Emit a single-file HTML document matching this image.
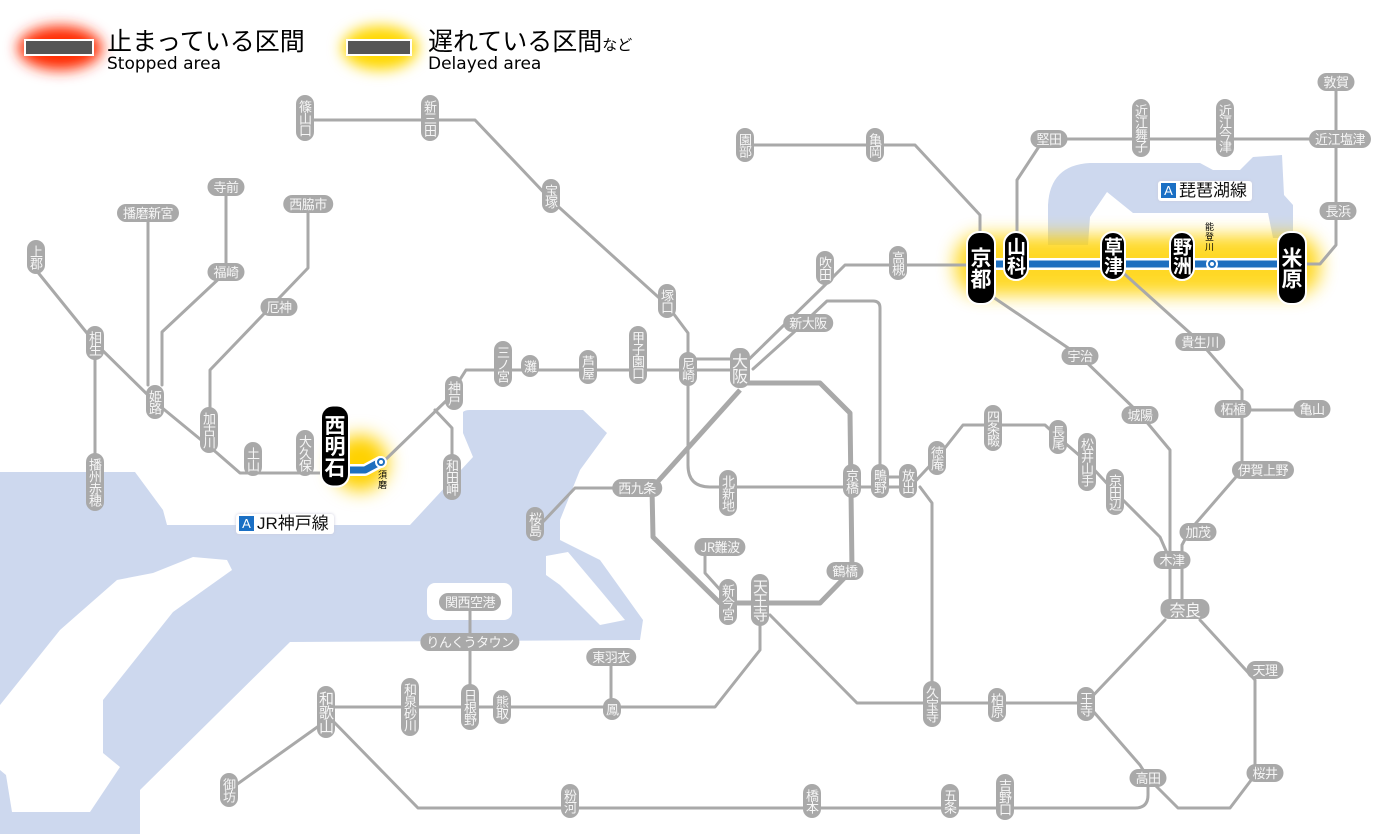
<!DOCTYPE html>
<html><head><meta charset="utf-8">
<style>
body{margin:0;background:#fff;}
#w{position:relative;width:1400px;height:834px;overflow:hidden;background:#fff;font-family:"Liberation Sans","Noto Sans CJK JP",sans-serif;}
svg{position:absolute;left:0;top:0;}
.p{position:absolute;transform:translate(-50%,-50%);background:#a9a9a9;color:#f6f6f6;font-size:13px;white-space:nowrap;font-family:"Noto Sans CJK JP",sans-serif;}
.v{writing-mode:vertical-rl;text-orientation:upright;width:18px;line-height:18px;padding:5px 0;border-radius:9px;letter-spacing:-1px;text-align:center;}
.h{height:18px;line-height:18px;padding:0 6px;border-radius:9px;letter-spacing:-0.5px;}
.b{position:absolute;transform:translate(-50%,-50%);background:#000;color:#fff;font-family:"Noto Sans CJK JP",sans-serif;font-weight:bold;writing-mode:vertical-rl;text-orientation:upright;width:26px;line-height:26px;font-size:21px;padding:9px 0;border-radius:13px;border:2px solid #fff;text-align:center;}
.t{position:absolute;font-family:"Noto Sans CJK JP",sans-serif;color:#000;}
.lab{position:absolute;background:#fff;border-radius:3px;padding:0 5px 0 3px;height:20px;line-height:20px;font-size:17px;font-family:"Liberation Sans","Noto Sans CJK JP",sans-serif;color:#111;box-shadow:0 0 3px #ccd;}
.lab i{display:inline-block;background:#1a6fc4;color:#fff;font-style:normal;font-size:13px;width:15px;height:15px;line-height:15px;text-align:center;margin-right:3px;vertical-align:1px;}
</style></head><body><div id="w">
<svg width="1400" height="834" viewBox="0 0 1400 834">
<defs>
<filter id="bl" x="-50%" y="-50%" width="200%" height="200%"><feGaussianBlur stdDeviation="9"/></filter>
<filter id="bl2" x="-50%" y="-50%" width="200%" height="200%"><feGaussianBlur stdDeviation="7"/></filter>
</defs>
<g fill="#cdd8ee">
<path d="M0,472 L135,472 L163,510 L167,525 L410,525 L473,457 L463,433 L463,412 Q465,410 470,410 L583,410 L607,433 L580,470 L560,520 L560,540 L600,560 L643,620 L640,640 L290,642 L140,790 L140,834 L0,834 Z"/>
<path d="M1048,245 L1048,205 Q1050,165 1090,163 L1200,163 L1213,170 L1240,170 L1253,157 L1282,155 L1284,195 L1293,205 L1293,238 L1273,238 L1268,213 L1133,213 L1107,192 L1090,217 L1088,245 Z"/>
</g>
<g fill="#fff">
<path d="M0,705 L60,630 L117,580 L153,573 L193,557 L227,560 L232,570 L173,612 L103,700 L103,753 L120,767 L90,812 L12,812 L6,775 L0,770 Z"/>
<rect x="427" y="583" width="85" height="37" rx="8"/>
<path d="M546,556 L568,552 L600,590 L625,620 L600,625 L580,605 L560,585 L546,575 Z"/>
<path d="M593,502 L598,495 L585,530 L575,540 Z"/>
</g>
<rect x="955" y="235" width="365" height="60" rx="25" fill="#ffd200" filter="url(#bl)" opacity="0.85"/>
<circle cx="360" cy="463" r="28" fill="#ffd200" filter="url(#bl)"/>
<ellipse cx="60" cy="48" rx="42" ry="22" fill="#ff2a00" filter="url(#bl2)"/>
<ellipse cx="380" cy="48" rx="38" ry="22" fill="#ffd800" filter="url(#bl2)"/>
<rect x="25" y="40" width="68" height="15" fill="#555" stroke="#fff" stroke-width="2"/>
<rect x="347" y="40" width="64" height="15" fill="#555" stroke="#fff" stroke-width="2"/>
<g fill="none" stroke="#a9a9a9" stroke-width="3" stroke-linejoin="round" stroke-linecap="round">
<path d="M305,120 L475,120 L551,200 L667,305 L688,333 L688,465 Q688,487 710,487 L910,487"/>
<path d="M880,477 L910,477"/>
<path d="M688,359 L740,359"/>
<path d="M36,270 L95,343 L155,402 L217,453 L240,473 L335,473"/>
<path d="M95,343 L95,485"/>
<path d="M148,213 L148,385"/>
<path d="M226,187 L226,272 L162,332 L162,385"/>
<path d="M308,204 L308,268 L210,370 L210,420"/>
<path d="M383,462 L447,400 L466,370 L740,370"/>
<path d="M435,410 L452,428 L452,478"/>
<path d="M740,368 L823,287 L845,265 L968,265"/>
<path d="M753,369 L793,333 L827,301 L873,301 Q880,301 880,308 L880,487"/>
<path d="M745,145 L915,145 L980,215 L980,240"/>
<path d="M1305,264 L1320,264 L1336,245 L1336,82"/>
<path d="M1017,240 L1017,180 L1040,145 L1049,139 L1340,139"/>
<path d="M990,295 L1080,356 L1140,414 L1170,450 L1170,600"/>
<path d="M1120,270 L1200,342 L1242,390 L1242,470 L1190,530 L1182,545 L1182,600"/>
<path d="M1242,410 L1312,410"/>
<path d="M910,487 L937,458 L963,425 L1045,425 L1058,437 L1087,462 L1115,492 L1160,537 L1170,560"/>
<path d="M920,487 L932,503 L932,703 L1086,703 L1165,620"/>
<path d="M1200,620 L1255,680 L1255,775 L1230,808 L1178,808 L1148,778"/>
<path d="M1086,703 L1140,765 L1148,778 L1148,795 Q1148,808 1135,808 L418,808 L330,718"/>
<path d="M330,718 L229,790"/>
<path d="M770,615 L857,703 L932,703"/>
<path d="M760,615 L760,650 L715,707 L325,707"/>
<path d="M611,657 L611,707"/>
<path d="M470,602 L470,707"/>
<path d="M705,547 L705,573 L723,593 L735,603"/>
<path d="M620,488 L575,488 L540,525"/>
</g>
<g fill="none" stroke="#a9a9a9" stroke-width="5" stroke-linejoin="round">
<path d="M747,383 L820,383 L850,413 L852,570 L820,603 L720,603 L653,537 L652,488 L740,390"/>
</g>
<g fill="none" stroke-linecap="round" stroke-linejoin="round">
<path d="M985,264 L1295,264" stroke="#fff" stroke-width="12"/>
<path d="M985,264 L1295,264" stroke="#1e6fbf" stroke-width="7"/>
<path d="M340,470 L365,470 L380,462" stroke="#fff" stroke-width="12"/>
<path d="M340,470 L365,470 L380,462" stroke="#1e6fbf" stroke-width="7"/>
</g>
<circle cx="1212" cy="264" r="5" fill="#1e6fbf" stroke="#fff" stroke-width="2"/>
<circle cx="1212" cy="264" r="2" fill="#fff"/>
<circle cx="381" cy="462" r="5" fill="#1e6fbf" stroke="#fff" stroke-width="2"/>
<circle cx="381" cy="462" r="2" fill="#fff"/>
</svg>

<div class="t" style="left:107px;top:24px;font-size:25px;line-height:32px;">止まっている区間</div>
<div class="t" style="left:107px;top:54px;font-size:17px;font-family:'DejaVu Sans',sans-serif;">Stopped area</div>
<div class="t" style="left:428px;top:24px;font-size:25px;line-height:32px;">遅れている区間<span style="font-size:15px">など</span></div>
<div class="t" style="left:428px;top:54px;font-size:17px;font-family:'DejaVu Sans',sans-serif;">Delayed area</div>

<div class="lab" style="left:1158px;top:181px;"><i>A</i>琵琶湖線</div>
<div class="lab" style="left:236px;top:514px;"><i>A</i>JR神戸線</div>

<div class="p v" style="left:305px;top:118px">篠山口</div>
<div class="p v" style="left:430px;top:118px">新三田</div>
<div class="p v" style="left:551px;top:196px">宝塚</div>
<div class="p v" style="left:667px;top:301px">塚口</div>
<div class="p v" style="left:688px;top:369px">尼崎</div>
<div class="p v" style="left:638px;top:355px">甲子園口</div>
<div class="p v" style="left:588px;top:367px">芦屋</div>
<div class="p v" style="left:530px;top:366px">灘</div>
<div class="p v" style="left:503px;top:364px">三ノ宮</div>
<div class="p v" style="left:454px;top:393px">神戸</div>
<div class="p v" style="left:452px;top:477px">和田岬</div>
<div class="p v" style="left:305px;top:453px">大久保</div>
<div class="p v" style="left:253px;top:459px">土山</div>
<div class="p v" style="left:209px;top:430px">加古川</div>
<div class="p v" style="left:155px;top:402px">姫路</div>
<div class="p v" style="left:95px;top:343px">相生</div>
<div class="p v" style="left:36px;top:257px">上郡</div>
<div class="p v" style="left:95px;top:482px">播州赤穂</div>
<div class="p v" style="left:740px;top:368px;font-size:16px;width:20px;line-height:20px">大阪</div>
<div class="p v" style="left:825px;top:268px">吹田</div>
<div class="p v" style="left:898px;top:263px">高槻</div>
<div class="p v" style="left:745px;top:145px">園部</div>
<div class="p v" style="left:875px;top:145px">亀岡</div>
<div class="p v" style="left:1141px;top:128px">近江舞子</div>
<div class="p v" style="left:1225px;top:128px">近江今津</div>
<div class="p v" style="left:1086px;top:704px">王寺</div>
<div class="p v" style="left:997px;top:705px">柏原</div>
<div class="p v" style="left:932px;top:704px">久宝寺</div>
<div class="p v" style="left:908px;top:481px">放出</div>
<div class="p v" style="left:880px;top:481px">鴫野</div>
<div class="p v" style="left:852px;top:481px">京橋</div>
<div class="p v" style="left:937px;top:458px">徳庵</div>
<div class="p v" style="left:993px;top:428px">四条畷</div>
<div class="p v" style="left:1058px;top:437px">長尾</div>
<div class="p v" style="left:1087px;top:462px">松井山手</div>
<div class="p v" style="left:1115px;top:492px">京田辺</div>
<div class="p v" style="left:728px;top:493px">北新地</div>
<div class="p v" style="left:535px;top:524px">桜島</div>
<div class="p v" style="left:728px;top:602px">新今宮</div>
<div class="p v" style="left:760px;top:600px;font-size:15px">天王寺</div>
<div class="p v" style="left:612px;top:709px">鳳</div>
<div class="p v" style="left:502px;top:707px">熊取</div>
<div class="p v" style="left:470px;top:707px">日根野</div>
<div class="p v" style="left:410px;top:707px">和泉砂川</div>
<div class="p v" style="left:326px;top:712px;font-size:15px">和歌山</div>
<div class="p v" style="left:229px;top:790px">御坊</div>
<div class="p v" style="left:570px;top:801px">粉河</div>
<div class="p v" style="left:812px;top:801px">橋本</div>
<div class="p v" style="left:950px;top:801px">五条</div>
<div class="p v" style="left:1005px;top:797px">吉野口</div>

<div class="p h" style="left:148px;top:213px">播磨新宮</div>
<div class="p h" style="left:226px;top:187px">寺前</div>
<div class="p h" style="left:226px;top:272px">福崎</div>
<div class="p h" style="left:308px;top:204px">西脇市</div>
<div class="p h" style="left:279px;top:307px">厄神</div>
<div class="p h" style="left:808px;top:323px">新大阪</div>
<div class="p h" style="left:1049px;top:139px">堅田</div>
<div class="p h" style="left:1336px;top:82px">敦賀</div>
<div class="p h" style="left:1340px;top:139px">近江塩津</div>
<div class="p h" style="left:1338px;top:211px">長浜</div>
<div class="p h" style="left:1080px;top:356px">宇治</div>
<div class="p h" style="left:1140px;top:415px">城陽</div>
<div class="p h" style="left:1200px;top:342px">貴生川</div>
<div class="p h" style="left:1233px;top:409px">柘植</div>
<div class="p h" style="left:1312px;top:409px">亀山</div>
<div class="p h" style="left:1263px;top:470px">伊賀上野</div>
<div class="p h" style="left:1198px;top:532px">加茂</div>
<div class="p h" style="left:1172px;top:560px">木津</div>
<div class="p h" style="left:1185px;top:609px;font-size:16px;height:20px;line-height:20px;padding:0 9px">奈良</div>
<div class="p h" style="left:1265px;top:670px">天理</div>
<div class="p h" style="left:1265px;top:773px">桜井</div>
<div class="p h" style="left:1148px;top:778px">高田</div>
<div class="p h" style="left:637px;top:488px">西九条</div>
<div class="p h" style="left:720px;top:547px">JR難波</div>
<div class="p h" style="left:845px;top:571px">鶴橋</div>
<div class="p h" style="left:470px;top:602px">関西空港</div>
<div class="p h" style="left:470px;top:642px">りんくうタウン</div>
<div class="p h" style="left:611px;top:657px">東羽衣</div>

<div class="b" style="left:335px;top:446px;padding:8px 0">西明石</div>
<div class="b" style="left:981px;top:268px;padding:14px 0">京都</div>
<div class="b" style="left:1016px;top:256px;width:22px;font-size:19px;line-height:22px;padding:4px 0">山科</div>
<div class="b" style="left:1113px;top:256px;width:22px;font-size:19px;line-height:22px;padding:4px 0">草津</div>
<div class="b" style="left:1182px;top:256px;width:22px;font-size:19px;line-height:22px;padding:4px 0">野洲</div>
<div class="b" style="left:1292px;top:268px;padding:14px 0">米原</div>
<div class="t" style="left:1205px;top:222px;font-size:9px;line-height:10px;width:10px;">能<br>登<br>川</div>
<div class="t" style="left:378px;top:470px;font-size:9px;line-height:10px;width:10px;">須<br>磨</div>
</div></body></html>
